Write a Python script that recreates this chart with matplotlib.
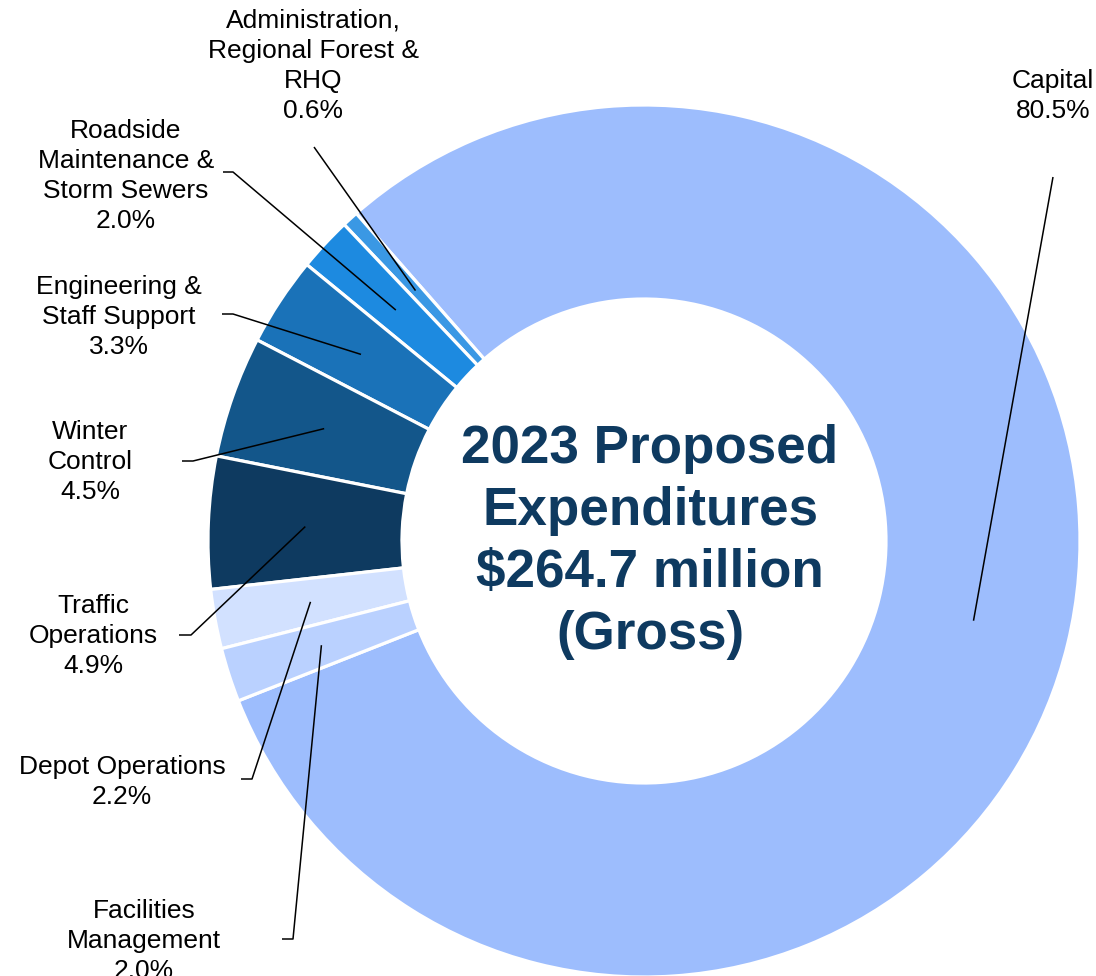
import matplotlib
matplotlib.use('Agg')
import matplotlib.pyplot as plt
import numpy as np

plt.rcParams['font.family'] = ['Liberation Sans', 'DejaVu Sans']

# wedge order, counter-clockwise from the lower left
names = ['Capital', 'Administration,\nRegional Forest &\nRHQ',
         'Roadside\nMaintenance &\nStorm Sewers', 'Engineering &\nStaff Support',
         'Winter\nControl', 'Traffic\nOperations', 'Depot Operations',
         'Facilities\nManagement']
shares = [80.5, 0.6, 2.0, 3.3, 4.5, 4.9, 2.2, 2.0]
colors = ['#9dbdfd', '#3a98e4', '#1d8ae0', '#1a72b8', '#13568a', '#0e3a60',
          '#d2e1ff', '#bad1ff']
title = '2023 Proposed\nExpenditures\n$264.7 million\n(Gross)'

# label layout in pixels: text centre x, last baseline y, leader start, elbow
R_PX, CX, CY = 436.0, 644.0, 541.0
label_px = [(1053, 118), (313, 118), (126, 228), (119, 354),
            (90, 499), (93, 673), (122, 804), (144, 978)]
leader_px = [[(1053, 177)], [(314, 147)], [(223, 172), (233, 172)],
             [(222, 314), (233, 314)], [(182, 461), (193, 461)],
             [(179, 635), (191, 635)], [(241, 779), (252, 779)],
             [(282, 939), (293, 939)]]


def px(x, y):
    return (x - CX) / R_PX, (CY - y) / R_PX


fig = plt.figure(figsize=(10.96, 9.76), dpi=100)
ax = fig.add_axes([0, 0, 1, 1])

ring = 1 - 242 / R_PX
wedges, _ = ax.pie(shares, colors=colors, startangle=201.5, counterclock=True,
                   radius=1, wedgeprops=dict(width=ring, edgecolor='white',
                                              linewidth=2.3))

for w, name, share, lp, pts in zip(wedges, names, shares, label_px, leader_px):
    mid = np.deg2rad((w.theta1 + w.theta2) / 2)
    r = 1 - ring / 2
    anchor = (r * np.cos(mid), r * np.sin(mid))
    path = [px(*p) for p in pts] + [anchor]
    xs, ys = zip(*path)
    ax.plot(xs, ys, color='black', lw=1.1, solid_capstyle='butt')
    tx, ty = px(*lp)
    ax.text(tx, ty, f'{name}\n{share:.1f}%', ha='center', va='baseline',
            fontsize=19, linespacing=1.32, color='black')

ax.text(*px(650, 542), title, ha='center', va='center', fontsize=38.2,
        fontweight='bold', color='#0e3a60', linespacing=1.3)

ax.set_xlim(-CX / R_PX, (1096 - CX) / R_PX)
ax.set_ylim(-(976 - CY) / R_PX, CY / R_PX)
ax.axis('off')

fig.savefig('out.png', dpi=100)
